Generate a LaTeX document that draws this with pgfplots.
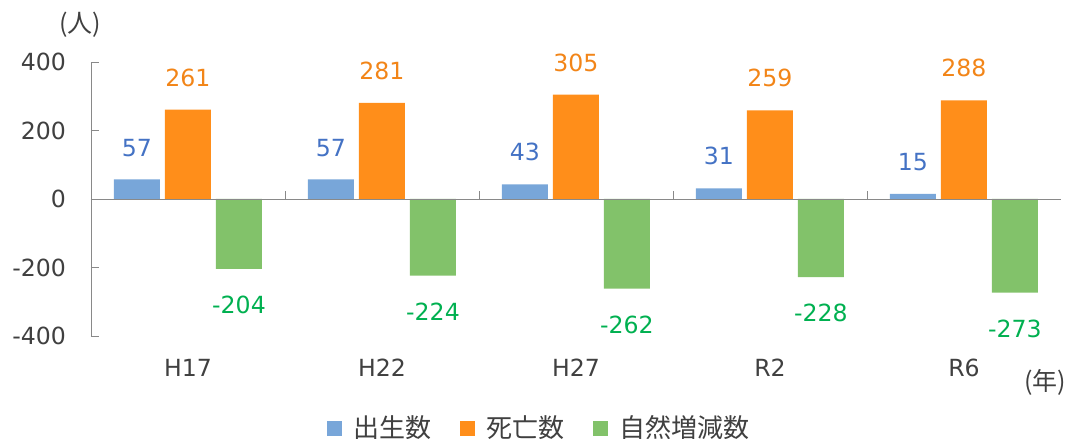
\documentclass[border=0pt]{standalone}
\usepackage{pgfplots}
\pgfplotsset{compat=1.18}
\usepackage{fontspec}
\setmainfont{DejaVu Sans}
\newfontfamily\cjk{Noto Sans CJK JP}

\definecolor{cblue}{HTML}{78A6D9}
\definecolor{corange}{HTML}{FF8E1A}
\definecolor{cgreen}{HTML}{82C26A}
\definecolor{lblue}{HTML}{4472C4}
\definecolor{lorange}{HTML}{F28518}
\definecolor{lgreen}{HTML}{00B050}
\definecolor{axisgray}{HTML}{898989}
\definecolor{txtgray}{HTML}{404040}

\newcommand{\numfont}{\fontsize{11.8}{14}\selectfont}

\begin{document}
\begin{tikzpicture}
\useasboundingbox (-45.5pt,-51.5pt) rectangle (491pt,168pt);
\begin{axis}[
    at={(0pt,0pt)}, anchor=south west,
    scale only axis,
    width=485pt, height=137pt,
    ybar=2.5pt, bar width=23pt,
    xmin=-0.5, xmax=4.5,
    ymin=-400, ymax=400,
    axis y line*=left,
    axis x line*=bottom,
    axis line style={-, draw=axisgray},
    x axis line style={draw=none},
    xtick={0,1,2,3,4},
    xticklabels={H17,H22,H27,R2,R6},
    ytick={-400,-200,0,200,400},
    yticklabels={-400,-200,0,200,400},
    x tick style={draw=none},
    y tick style={draw=axisgray, thin},
    major tick length=4pt,
    tick align=inside,
    tick label style={font=\numfont, text=txtgray},
    xticklabel style={yshift=-8pt},
    yticklabel style={xshift=-9pt},
    /pgf/number format/assume math mode=true,
    nodes near coords,
    every node near coord/.append style={font=\numfont},
    legend style={at={(0.463,-0.336)}, anchor=center, draw=none,
        font=\fontsize{13}{15}\selectfont\cjk, text=txtgray,
        legend columns=3,
        /tikz/every odd column/.append style={column sep=4pt},
        /tikz/every even column/.append style={column sep=12pt}},
    legend image code/.code={\fill[#1] (0pt,-3.75pt) rectangle (7.5pt,3.75pt);},
]
\addplot[fill=cblue, draw=none,
    every node near coord/.append style={text=lblue, yshift=8pt}]
    coordinates {(0,57) (1,57) (2,43) (3,31) (4,15)};
\addplot[fill=corange, draw=none,
    every node near coord/.append style={text=lorange, yshift=8pt}]
    coordinates {(0,261) (1,281) (2,305) (3,259) (4,288)};
\addplot[fill=cgreen, draw=none,
    every node near coord/.append style={text=lgreen, yshift=-10pt}]
    coordinates {(0,-204) (1,-224) (2,-262) (3,-228) (4,-273)};
\legend{出生数, 死亡数, 自然増減数}

\draw[axisgray, thin] (axis cs:-0.5,0) -- (axis cs:4.5,0);
\pgfplotsinvokeforeach{0.5,1.5,2.5,3.5}{
    \draw[axisgray, thin] (axis cs:#1,0) -- ++(0pt,4pt);
}
\end{axis}
\node[font=\fontsize{12.5}{15}\selectfont\cjk, text=txtgray] at (-5.5pt,155.5pt) {(人)};
\node[font=\fontsize{12.5}{15}\selectfont\cjk, text=txtgray] at (477pt,-23pt) {(年)};
\end{tikzpicture}
\end{document}
